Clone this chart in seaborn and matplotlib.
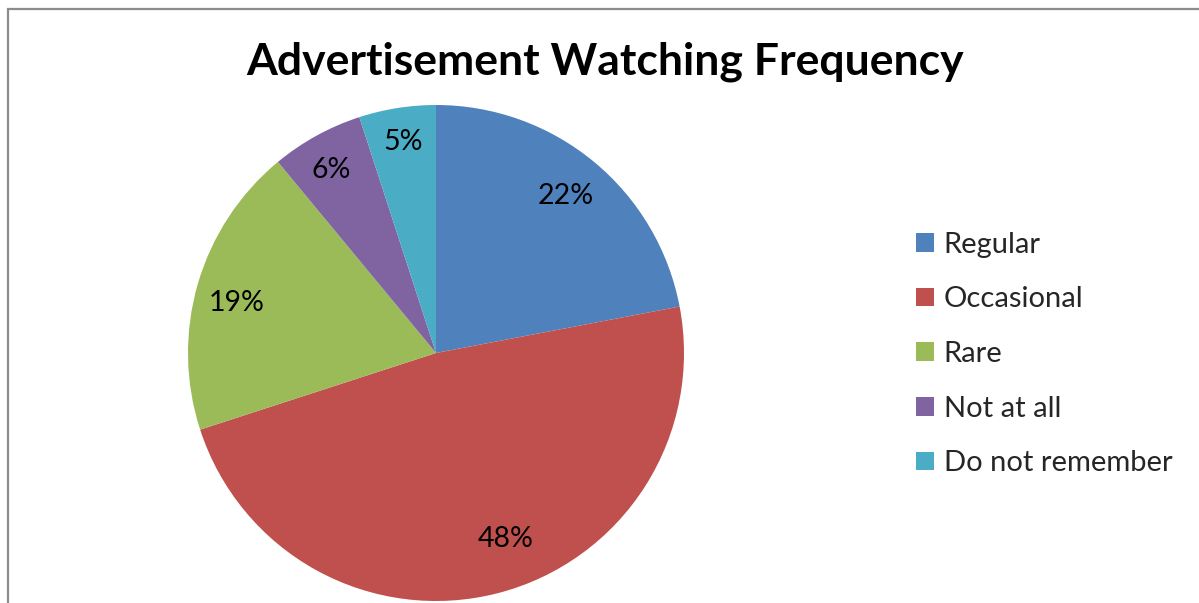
import matplotlib
matplotlib.use("Agg")
import matplotlib.pyplot as plt
from matplotlib.patches import Rectangle
import numpy as np
import seaborn as sns

# Survey results: how often respondents watch advertisements
categories = ["Regular", "Occasional", "Rare", "Not at all", "Do not remember"]
shares = [22, 48, 19, 6, 5]
colors = ["#4F81BD", "#C0504D", "#9BBB59", "#8064A2", "#4BACC6"]
title = "Advertisement Watching Frequency"

sns.set_theme(style="white")
plt.rcParams["font.family"] = ["Lato", "DejaVu Sans"]

W, H = 1199, 603
fig = plt.figure(figsize=(W / 100, H / 100), dpi=100)
fig.patch.set_facecolor("white")

# chart-area frame
fig.add_artist(Rectangle((7.5 / W, -0.1), 1.2, (H - 9.5) / H + 0.1,
                         transform=fig.transFigure, fill=False,
                         edgecolor="#8C8C8C", linewidth=1.6))

cx, cy, r = 436, 353, 248
ax = fig.add_axes([(cx - r) / W, (H - cy - r) / H, 2 * r / W, 2 * r / H])
wedges, texts = ax.pie(
    shares, colors=colors, startangle=90, counterclock=False,
    radius=1.0, wedgeprops=dict(linewidth=0),
)
ax.set_xlim(-1, 1)
ax.set_ylim(-1, 1)
ax.set_aspect("equal")
ax.axis("off")

# percentage labels placed along each wedge's bisector
label_r = [0.82, 0.80, 0.83, 0.85, 0.86]
angle_shift = [0, 6, 2, 1, 0]
for w, v, lr, da in zip(wedges, shares, label_r, angle_shift):
    mid = np.deg2rad((w.theta1 + w.theta2) / 2 + da)
    ax.text(lr * np.cos(mid), lr * np.sin(mid), f"{v}%", ha="center",
            va="center", fontsize=20.5, color="black")

fig.text(605 / W, 1 - 62 / H, title, ha="center", va="center",
         fontsize=32, fontweight="bold", color="black")

leg = fig.legend(wedges, categories, loc="center left",
                 bbox_to_anchor=(916 / W, 1 - 354 / H), frameon=False,
                 fontsize=21, handlelength=0.6, handleheight=0.6,
                 handletextpad=0.35, labelspacing=0.98, borderaxespad=0,
                 borderpad=0)

fig.savefig("out.png", dpi=100, facecolor="white")
